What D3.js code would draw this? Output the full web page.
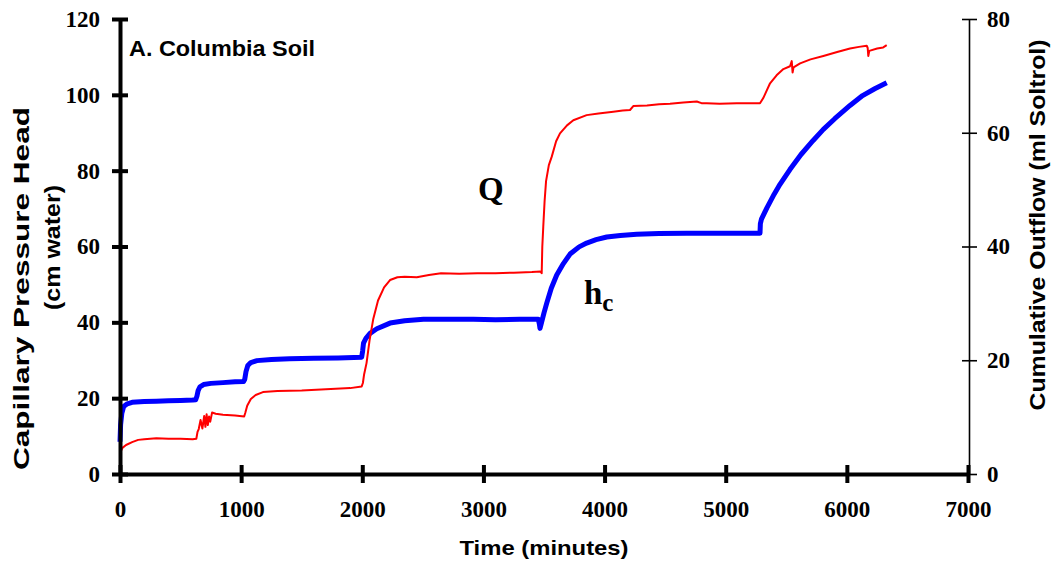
<!DOCTYPE html>
<html>
<head>
<meta charset="utf-8">
<script src="https://cdn.jsdelivr.net/npm/d3@7"></script>
<style>
  html, body { margin: 0; padding: 0; background: #fff; }
  svg { display: block; }
</style>
</head>
<body>
<svg id="chart" width="1052" height="574"></svg>
<script>
// Capillary pressure head h_c (cm water) vs time (minutes), left axis
const hcSeries = [
  [0, 8.5], [5, 13], [15, 16], [30, 17.8], [60, 18.5], [100, 18.9], [200, 19.1],
  [300, 19.2], [400, 19.3], [500, 19.4], [600, 19.5], [625, 19.6], [635, 20.5],
  [645, 22.0], [660, 23.0], [690, 23.6], [750, 23.9], [850, 24.1], [950, 24.3],
  [1020, 24.4], [1030, 25.0], [1040, 27.0], [1055, 28.6], [1080, 29.4], [1130, 29.9],
  [1250, 30.2], [1400, 30.4], [1600, 30.5], [1800, 30.6], [1995, 30.8], [2003, 32.5],
  [2010, 34.5], [2030, 35.8], [2064, 37.1], [2120, 38.3], [2229, 39.8], [2350, 40.4],
  [2505, 40.8], [2700, 40.8], [2916, 40.8], [3100, 40.7], [3300, 40.8], [3453, 40.8],
  [3462, 39.5], [3467, 38.4], [3480, 40.0], [3500, 42.5], [3522, 45.0], [3560, 49.0],
  [3605, 52.5], [3660, 55.5], [3715, 58.0], [3790, 59.9], [3852, 60.9], [3930, 61.8],
  [4018, 62.5], [4130, 62.9], [4265, 63.2], [4450, 63.4], [4678, 63.5], [4900, 63.5],
  [5100, 63.5], [5283, 63.5], [5286, 66.0], [5295, 67.2], [5340, 70.2], [5400, 73.8],
  [5448, 76.4], [5530, 80.3], [5620, 84.2], [5720, 87.9], [5806, 90.9], [5900, 93.7],
  [6026, 97.2], [6130, 99.8], [6230, 101.6], [6329, 103.2]
];

// Cumulative outflow Q (ml Soltrol) vs time (minutes), right axis
const qSeries = [
  [0, 3.3], [5, 3.9], [20, 4.6], [50, 5.1], [100, 5.6], [150, 6.0], [200, 6.1],
  [300, 6.3], [400, 6.2], [500, 6.2], [600, 6.1], [630, 6.2], [640, 7.4], [650, 7.9],
  [665, 9.5], [680, 8.0], [695, 10.2], [705, 8.3], [715, 10.5], [725, 8.6], [735, 10.1],
  [745, 9.2], [760, 10.8], [790, 10.6], [850, 10.4], [950, 10.3], [1025, 10.1],
  [1035, 10.8], [1050, 12.0], [1080, 13.2], [1120, 13.9], [1180, 14.4], [1300, 14.6],
  [1500, 14.7], [1700, 14.9], [1900, 15.1], [1995, 15.4], [2005, 16.0], [2015, 17.5],
  [2035, 19.5], [2060, 23.5], [2090, 27.2], [2130, 30.5], [2180, 32.8], [2229, 34.1],
  [2290, 34.6], [2350, 34.7], [2450, 34.6], [2550, 35.0], [2650, 35.3], [2800, 35.2],
  [2950, 35.3], [3100, 35.3], [3250, 35.4], [3400, 35.5], [3470, 35.6], [3481, 35.3],
  [3486, 40.0], [3494, 43.5], [3505, 48.0], [3517, 51.5], [3540, 54.3], [3564, 55.8],
  [3600, 58.5], [3632, 59.9], [3690, 61.3], [3742, 62.2], [3852, 63.1], [3950, 63.4],
  [4072, 63.7], [4150, 63.9], [4210, 64.0], [4237, 64.7], [4350, 64.8], [4450, 65.0],
  [4540, 65.1], [4650, 65.3], [4761, 65.5], [4800, 65.2], [4843, 65.2], [4950, 65.1],
  [5091, 65.2], [5200, 65.2], [5283, 65.2], [5310, 66.1], [5340, 67.5], [5366, 68.7],
  [5420, 70.1], [5476, 71.2], [5531, 71.7], [5545, 72.6], [5552, 70.6], [5560, 71.5],
  [5614, 72.2], [5700, 72.9], [5806, 73.5], [5920, 74.2], [6026, 74.8], [6100, 75.1],
  [6164, 75.3], [6172, 74.9], [6177, 73.5], [6185, 74.4], [6250, 74.8], [6300, 75.0],
  [6329, 75.4]
];

const timeTicks = [0, 1000, 2000, 3000, 4000, 5000, 6000, 7000];
const headTicks = [0, 20, 40, 60, 80, 100, 120];
const outflowTicks = [0, 20, 40, 60, 80];

const svg = d3.select("#chart");

const x = d3.scaleLinear().domain([0, 7000]).range([120, 968]);
const yL = d3.scaleLinear().domain([0, 120]).range([474, 19]);
const yR = d3.scaleLinear().domain([0, 80]).range([474, 19]);

const tickFont = (g) => g.selectAll("text")
  .style("font-family", "'Liberation Serif', 'Times New Roman', serif")
  .style("font-weight", "bold")
  .style("font-size", "23px")
  .attr("fill", "#000");

// Data lines: h_c first, Q drawn over it
const line = (yScale) => d3.line().x(d => x(d[0])).y(d => yScale(d[1]));

svg.append("path")
  .datum(hcSeries)
  .attr("d", line(yL))
  .attr("fill", "none")
  .attr("stroke", "#0000ff")
  .attr("stroke-width", 5)
  .attr("stroke-linejoin", "round");

svg.append("path")
  .datum(qSeries)
  .attr("d", line(yR))
  .attr("fill", "none")
  .attr("stroke", "#ff0000")
  .attr("stroke-width", 2)
  .attr("stroke-linejoin", "round");

// Right axis (thin)
const gR = svg.append("g")
  .attr("transform", "translate(969,0)")
  .call(d3.axisRight(yR).tickValues(outflowTicks).tickSizeInner(8).tickSizeOuter(0).tickPadding(10));
gR.select(".domain").attr("stroke", "#000").attr("stroke-width", 1.6);
gR.selectAll(".tick line").attr("x1", -7).attr("stroke", "#000").attr("stroke-width", 1.6);
gR.call(tickFont);

// Left axis (heavy)
const gL = svg.append("g")
  .attr("transform", "translate(120,0)")
  .call(d3.axisLeft(yL).tickValues(headTicks).tickSizeInner(8).tickSizeOuter(0).tickPadding(12));
gL.select(".domain").attr("stroke", "#000").attr("stroke-width", 4);
gL.selectAll(".tick line").attr("x1", 8).attr("stroke", "#000").attr("stroke-width", 4);
gL.call(tickFont);

// Bottom axis (heavy)
const gB = svg.append("g")
  .attr("transform", "translate(0,474)")
  .call(d3.axisBottom(x).tickValues(timeTicks).tickFormat(d3.format("d")).tickSizeInner(9).tickSizeOuter(0).tickPadding(18));
gB.select(".domain").attr("stroke", "#000").attr("stroke-width", 4);
gB.selectAll(".tick line").attr("y1", -9).attr("stroke", "#000").attr("stroke-width", 4);
gB.call(tickFont);

// Titles
const sans = "'Liberation Sans', Arial, sans-serif";

svg.append("text")
  .attr("x", 544).attr("y", 555)
  .attr("text-anchor", "middle")
  .attr("textLength", 169).attr("lengthAdjust", "spacingAndGlyphs")
  .style("font-family", sans).style("font-weight", "bold").style("font-size", "21px")
  .text("Time (minutes)");

svg.append("text")
  .attr("transform", "translate(29,288.5) rotate(-90)")
  .attr("text-anchor", "middle")
  .attr("textLength", 363).attr("lengthAdjust", "spacingAndGlyphs")
  .style("font-family", sans).style("font-weight", "bold").style("font-size", "22px")
  .text("Capillary Pressure Head");

svg.append("text")
  .attr("transform", "translate(60,247.5) rotate(-90)")
  .attr("text-anchor", "middle")
  .attr("textLength", 125).attr("lengthAdjust", "spacingAndGlyphs")
  .style("font-family", sans).style("font-weight", "bold").style("font-size", "22px")
  .text("(cm water)");

svg.append("text")
  .attr("transform", "translate(1045,225) rotate(-90)")
  .attr("text-anchor", "middle")
  .attr("textLength", 371).attr("lengthAdjust", "spacingAndGlyphs")
  .style("font-family", sans).style("font-weight", "bold").style("font-size", "22px")
  .text("Cumulative Outflow (ml Soltrol)");

svg.append("text")
  .attr("x", 129).attr("y", 56)
  .attr("textLength", 186).attr("lengthAdjust", "spacingAndGlyphs")
  .style("font-family", sans).style("font-weight", "bold").style("font-size", "22px")
  .text("A. Columbia Soil");

// Series labels
const serif = "'Liberation Serif', 'Times New Roman', serif";

svg.append("text")
  .attr("x", 478).attr("y", 200)
  .style("font-family", serif).style("font-weight", "bold").style("font-size", "33px")
  .text("Q");

const hc = svg.append("text")
  .attr("x", 584).attr("y", 304)
  .style("font-family", serif).style("font-weight", "bold").style("font-size", "33px");
hc.append("tspan").text("h");
hc.append("tspan").attr("dy", 7).style("font-size", "25px").text("c");
</script>
</body>
</html>
